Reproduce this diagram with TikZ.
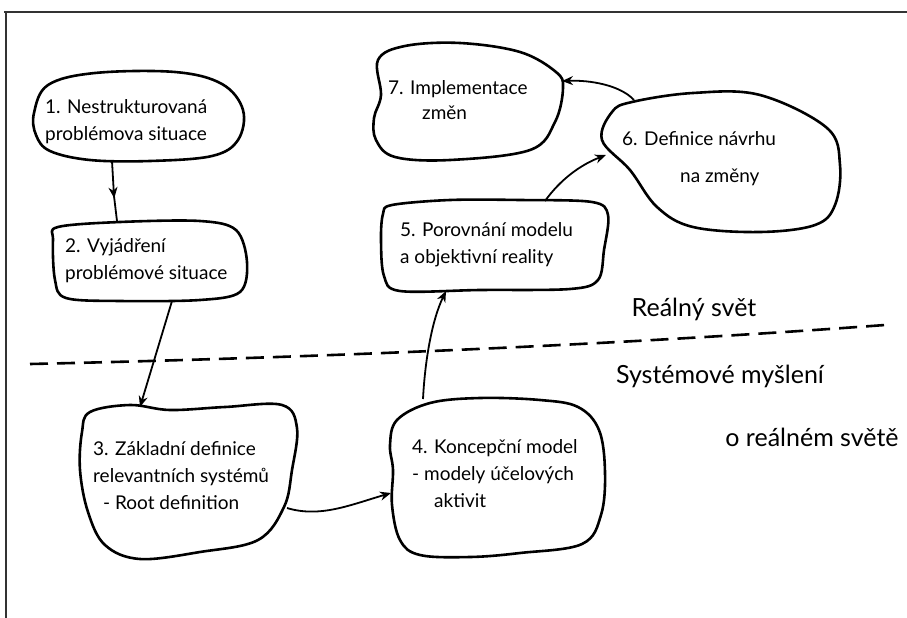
\documentclass[tikz,border=0pt]{standalone}
\usepackage{fontspec}
\setmainfont{Lato}
\usetikzlibrary{arrows.meta,decorations.markings}

\begin{document}
\begin{tikzpicture}[x=1pt,y=-1pt,
  blob/.style={line width=2.6pt, line join=round},
  lbl/.style={font=\fontsize{19}{27}\selectfont, align=left, inner sep=0pt, anchor=west},
  zone/.style={font=\fontsize{25}{30}\selectfont, inner sep=0pt},
  tip/.style={-{Stealth[length=11pt,width=9pt]}},
  conn/.style={line width=1.8pt, tip},
  midconn/.style={line width=1.8pt,
    decoration={markings, mark=at position 0.62 with {\arrow{Stealth[length=11pt,width=9pt]}}},
    postaction=decorate},
  divider/.style={line width=2.6pt, dash pattern=on 18pt off 9pt},
  frameline/.style={line width=1.6pt, draw=black!80}
]
\useasboundingbox (0,0) rectangle (907,618);

% outer frame (top and left edges)
\draw[frameline] (4,12) -- (907,12);
\draw[frameline] (6,12) -- (6,618);

% hand-drawn outlines of the seven stages
\draw[blob] plot[smooth cycle, tension=0.6] coordinates
  {(34,113) (48,85) (95,73) (175,72) (222,84) (243,110) (238,140) (212,156) (150,161) (90,160) (50,151) (36,135)};
\draw[blob] plot[smooth cycle, tension=0.55] coordinates
  {(58,227) (120,222) (200,221) (236,230) (247,262) (240,292) (200,300) (120,301) (66,298) (55,280) (53,240)};
\draw[blob] plot[smooth cycle, tension=0.6] coordinates
  {(90,412) (130,405) (170,410) (225,407) (282,405) (297,428) (292,470) (284,507) (258,540) (200,552) (140,559) (105,545) (88,512) (80,470) (82,432)};
\draw[blob] plot[smooth cycle, tension=0.6] coordinates
  {(397,420) (430,403) (480,398) (540,400) (578,407) (599,430) (605,472) (601,515) (582,544) (520,553) (470,557) (420,555) (400,540) (392,505) (393,470) (390,445)};
\draw[blob] plot[smooth cycle, tension=0.55] coordinates
  {(392,205) (450,200) (520,200) (592,202) (608,215) (604,250) (598,280) (570,289) (480,290) (400,291) (384,276) (381,240) (383,214)};
\draw[blob] plot[smooth cycle, tension=0.6] coordinates
  {(632,102) (693,93) (760,95) (827,128) (840,165) (835,205) (815,225) (760,232) (693,227) (657,207) (630,170) (602,140) (612,112)};
\draw[blob] plot[smooth cycle, tension=0.6] coordinates
  {(378,60) (405,46) (460,43) (520,52) (556,72) (563,88) (555,122) (530,150) (450,160) (395,157) (376,140) (374,118) (381,95)};

% stage texts
\node[lbl] (n1) at (45,122) {1. Nestrukturovaná\\problémova situace};
\node[lbl] (n2) at (65,261) {2. Vyjádření\\problémové situace};
\node[lbl] (n3) at (93,476) {3. Základní definice\\relevantních systémů\\\hspace*{10pt}- Root definition};
\node[lbl] (n4) at (412,474) {4. Koncepční model\\- modely účelových\\\hspace*{22pt}aktivit};
\node[lbl] (n5) at (400,245) {5. Porovnání modelu\\a objektivní reality};
\node[lbl] (n6) at (622,159) {6. Definice návrhu\\[10pt]\hspace*{58pt}na změny};
\node[lbl, font=\fontsize{19}{25}\selectfont] (n7) at (388,100) {7. Implementace\\\hspace*{34pt}změn};

% region labels
\node[zone] (real) at (694,309) {Reálný svět};
\node[zone] (syst) at (720,376) {Systémové myšlení};
\node[zone] (oreal) at (812,437) {o reálném světě};

% connector end points on the outlines
\coordinate (b1s) at (112,161);
\coordinate (b2n) at (117,221);
\coordinate (b2s) at (172,301);
\coordinate (b3n) at (140,407);
\coordinate (b3e) at (287,508);
\coordinate (b4w) at (391,493);
\coordinate (b4n) at (423,399);
\coordinate (b5s) at (446,291);
\coordinate (b5n) at (545,201);
\coordinate (b6w) at (606,155);
\coordinate (b6n) at (634,100);
\coordinate (b7e) at (562,81);

% connectors
\draw[midconn] (b1s) -- (114,196) -- (b2n);
\draw[conn] (b2s) -- (b3n);
\draw[conn] (b3e) .. controls (320,518) and (350,505) .. (b4w);
\draw[conn] (b4n) .. controls (425,360) and (432,320) .. (b5s);
\draw[conn] (b5n) .. controls (560,180) and (580,165) .. (b6w);
\draw[conn] (b6n) .. controls (620,85) and (590,80) .. (b7e);

% boundary between the real world and systems thinking
\coordinate (dl) at (30,364);
\coordinate (dr) at (885,325);
\draw[divider] (dl) .. controls (300,358) and (600,346) .. (dr);
\end{tikzpicture}
\end{document}
